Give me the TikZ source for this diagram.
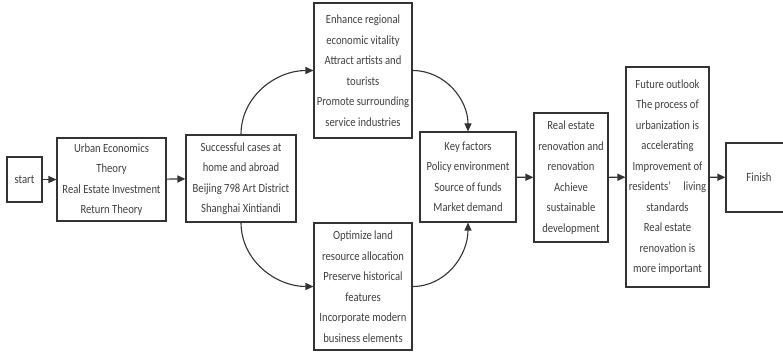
\documentclass[tikz,border=0pt]{standalone}
\usepackage{fontspec}
\setmainfont{Carlito}[FakeStretch=0.85]
\usetikzlibrary{arrows.meta}
\begin{document}
\begin{tikzpicture}[x=1pt,y=-1pt,
  box/.style={draw=black!80, line width=1.1pt, fill=white, align=center, inner sep=0pt,
    font=\fontsize{12.5}{20.5}\selectfont, text=black!75},
  conn/.style={draw=black!80, line width=1.1pt, -{Triangle[length=8pt,width=7pt]}}]
\useasboundingbox (0,0) rectangle (783,352);
\clip (0,0) rectangle (783,352);
\node[box, minimum width=35pt, minimum height=45pt] (start) at (24.5,179.5) {start};
\node[box, minimum width=109pt, minimum height=83pt] (b1) at (111.5,179.5) {Urban Economics\\Theory\\Real Estate Investment\\Return Theory};
\node[box, minimum width=110pt, minimum height=87pt] (b2) at (241,178.5) {Successful cases at\\home and abroad\\Beijing 798 Art District\\Shanghai Xintiandi};
\node[box, minimum width=98pt, minimum height=135pt] (top) at (363,70.5) {Enhance regional\\economic vitality\\Attract artists and\\tourists\\Promote surrounding\\service industries};
\node[box, minimum width=98pt, minimum height=127pt] (bot) at (363,286.5) {Optimize land\\resource allocation\\Preserve historical\\features\\Incorporate modern\\business elements};
\node[box, minimum width=96pt, minimum height=90pt] (key) at (468,177) {Key factors\\Policy environment\\Source of funds\\Market demand};
\node[box, minimum width=74pt, minimum height=129pt] (real) at (571,177.5) {Real estate\\renovation and\\renovation\\Achieve\\sustainable\\development};
\node[box, minimum width=83pt, minimum height=220pt] (fut) at (667.5,177) {Future outlook\\The process of\\urbanization is\\accelerating\\Improvement of\\residents’\quad living\\standards\\Real estate\\renovation is\\more important};
\node[box, minimum width=66pt, minimum height=69pt, text width=54pt] (fin) at (759,177.5) {Finish};
\draw[conn] (start) -- (b1);
\draw[conn] (b1) -- (b2);
\draw[conn] (b2.north) to[out=90,in=180] (top.west);
\draw[conn] (b2.south) to[out=-90,in=180] (bot.west);
\draw[conn] (top.east) to[out=0,in=90] (key.north);
\draw[conn] (bot.east) to[out=0,in=-90] (key.south);
\draw[conn] (key) -- (real);
\draw[conn] (real) -- (fut);
\draw[conn] (fut) -- (fin);
\end{tikzpicture}
\end{document}
